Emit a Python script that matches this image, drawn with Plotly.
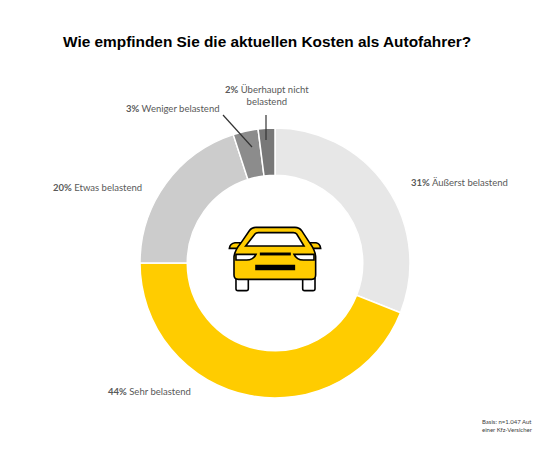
import plotly.graph_objects as go

W, H = 534, 462

# Data
categories = ["Äußerst belastend", "Sehr belastend", "Etwas belastend", "Weniger belastend", "Überhaupt nicht belastend"]
values = [31, 44, 20, 3, 2]
colors = ["#E7E7E7", "#FFCC00", "#CCCCCC", "#8C8C8C", "#787878"]

title = "Wie empfinden Sie die aktuellen Kosten als Autofahrer?"
# the source picture cuts this note off at its right edge
basis = "Basis: n=1.047 Aut<br>einer Kfz-Versicher"


def px(x):
    return x / W


def py(y):
    return 1 - y / H


# car icon is drawn in the coordinates of a 3x crop starting at 210,210
def car_path(cmds):
    out = []
    for c in cmds:
        out.append(c[0] + " ".join(f"{px(210 + c[i] / 3):.4f},{py(210 + c[i + 1] / 3):.4f}" for i in range(1, len(c), 2)))
    return " ".join(out) + " Z"


fig = go.Figure(go.Pie(
    labels=categories, values=values, hole=0.65, sort=False, direction="clockwise", rotation=0,
    marker=dict(colors=colors, line=dict(color="white", width=1.5)),
    textinfo="none", showlegend=False,
    domain=dict(x=[px(140), px(410)], y=[py(398), py(128)]),
))


def label(x, y, pct, name, anchor="left"):
    fig.add_annotation(
        x=px(x), y=py(y), xref="paper", yref="paper", xanchor=anchor, yanchor="middle", showarrow=False,
        text=f"<b>{pct}%</b> {name}", font=dict(family="Lato", size=9.5, color="#595959"),
    )


label(409, 182, values[0], categories[0])
label(106, 391, values[1], categories[1])
label(51, 187, values[2], categories[2])
label(124, 109, values[3], categories[3])
label(267, 95.5, values[4], "Überhaupt nicht<br>belastend", anchor="center")

fig.add_annotation(
    x=px(267), y=py(41), xref="paper", yref="paper", xanchor="center", yanchor="middle", showarrow=False,
    text=f"<b>{title}</b>", font=dict(family="Liberation Sans", size=15.4, color="black"),
)
fig.add_annotation(
    x=px(480), y=py(425), xref="paper", yref="paper", xanchor="left", yanchor="middle", showarrow=False, align="left",
    text=basis, font=dict(family="Lato", size=6, color="#404040"),
)

# leader lines
for x0, y0, x1, y1 in [(223, 115, 252, 147), (266, 115, 266, 140)]:
    fig.add_shape(type="line", xref="paper", yref="paper", x0=px(x0), y0=py(y0), x1=px(x1), y1=py(y1),
                  line=dict(color="#333333", width=1.2))

# car icon
black = dict(color="black", width=1.6)
parts = [
    ([("M", 78, 205), ("L", 78, 236), ("Q", 78, 242, 84, 242), ("L", 109, 242), ("Q", 115, 242, 115, 236), ("L", 115, 205)], "white"),
    ([("M", 278, 205), ("L", 278, 236), ("Q", 278, 242, 284, 242), ("L", 309, 242), ("Q", 315, 242, 315, 236), ("L", 315, 205)], "white"),
    ([("M", 58, 115), ("Q", 60, 100, 75, 98), ("L", 92, 98), ("L", 85, 115)], "#FFCC00"),
    ([("M", 332, 115), ("Q", 330, 100, 318, 98), ("L", 300, 98), ("L", 305, 115)], "#FFCC00"),
    ([("M", 72, 195), ("L", 72, 140), ("Q", 75, 120, 92, 100), ("L", 118, 62), ("Q", 125, 52, 138, 52), ("L", 255, 52),
      ("Q", 268, 52, 275, 62), ("L", 300, 100), ("Q", 315, 120, 317, 140), ("L", 317, 195), ("Q", 317, 208, 305, 208),
      ("L", 85, 208), ("Q", 72, 208, 72, 195)], "#FFCC00"),
    ([("M", 107, 108), ("L", 135, 72), ("Q", 138, 68, 145, 68), ("L", 250, 68), ("Q", 257, 68, 260, 72), ("L", 282, 108)], "white"),
    ([("M", 78, 133), ("L", 138, 133), ("Q", 130, 150, 110, 150), ("L", 78, 150)], "white"),
    ([("M", 252, 133), ("L", 312, 133), ("L", 312, 150), ("L", 280, 150), ("Q", 260, 150, 252, 133)], "white"),
    ([("M", 152, 130), ("L", 240, 130), ("L", 240, 134), ("L", 152, 134)], "black"),
    ([("M", 138, 167), ("L", 253, 167), ("L", 253, 178), ("L", 138, 178)], "black"),
]
for cmds, fill in parts:
    fig.add_shape(type="path", xref="paper", yref="paper", path=car_path(cmds), fillcolor=fill, line=black)

fig.update_layout(width=W, height=H, margin=dict(l=0, r=0, t=0, b=0), paper_bgcolor="white")

fig.write_html("out.html", config=dict(displayModeBar=False), post_script="document.body.style.margin='0';")
